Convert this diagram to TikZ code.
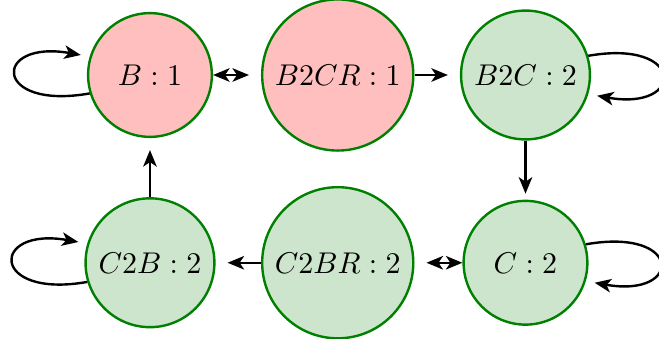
\documentclass[tikz,border=0pt]{standalone}
\usepackage{tikz}
\usetikzlibrary{calc,arrows.meta}
\tikzset{>={Stealth[length=5.5pt,width=4.5pt,inset=1.5pt]}}

\begin{document}
\begin{tikzpicture}[thick,
    state/.style={circle,draw=green!50!black,minimum size=1.45cm,inner sep=3.33pt},
    bstate/.style={state,fill=red!25},
    cstate/.style={state,fill=green!50!black!20}]
      \useasboundingbox (-50pt,-87.7pt) rectangle (169.7pt,25pt);

      \node[bstate] (B) at (0,0) {$B:1$};
      \node[bstate] (B2CR) at (2.2,0) {$B2CR:1$};
      \node[cstate] (B2C) at (4.4,0) {$B2C:2$};
      \node[cstate] (C) at (4.4,-2.2) {$C:2$};
      \node[cstate] (C2BR) at (2.2,-2.2) {$C2BR:2$};
      \node[cstate] (C2B) at (0,-2.2) {$C2B:2$};

      \draw[<->,shorten >=4pt] (B) -- (B2CR);
      \draw[->,shorten >=4pt] (B2CR) -- (B2C);
      \draw[->,shorten >=2pt] (B2C) -- (C);
      \draw[<->,shorten >=4pt] (C) -- (C2BR);
      \draw[->,shorten >=4pt] (C2BR) -- (C2B);
      \draw[->,shorten >=4pt] (C2B) -- (B);

      % self loops
      \draw[->,shorten >=3pt] (B.197) to[out=190,in=170,min distance=33pt] (B.163);
      \draw[->,shorten >=3pt] (C2B.197) to[out=190,in=170,min distance=33pt] (C2B.163);
      \draw[->,shorten >=3pt] (B2C.17) to[out=10,in=-10,min distance=33pt] (B2C.-17);
      \draw[->,shorten >=3pt] (C.17) to[out=10,in=-10,min distance=33pt] (C.-17);
\end{tikzpicture}
\end{document}
